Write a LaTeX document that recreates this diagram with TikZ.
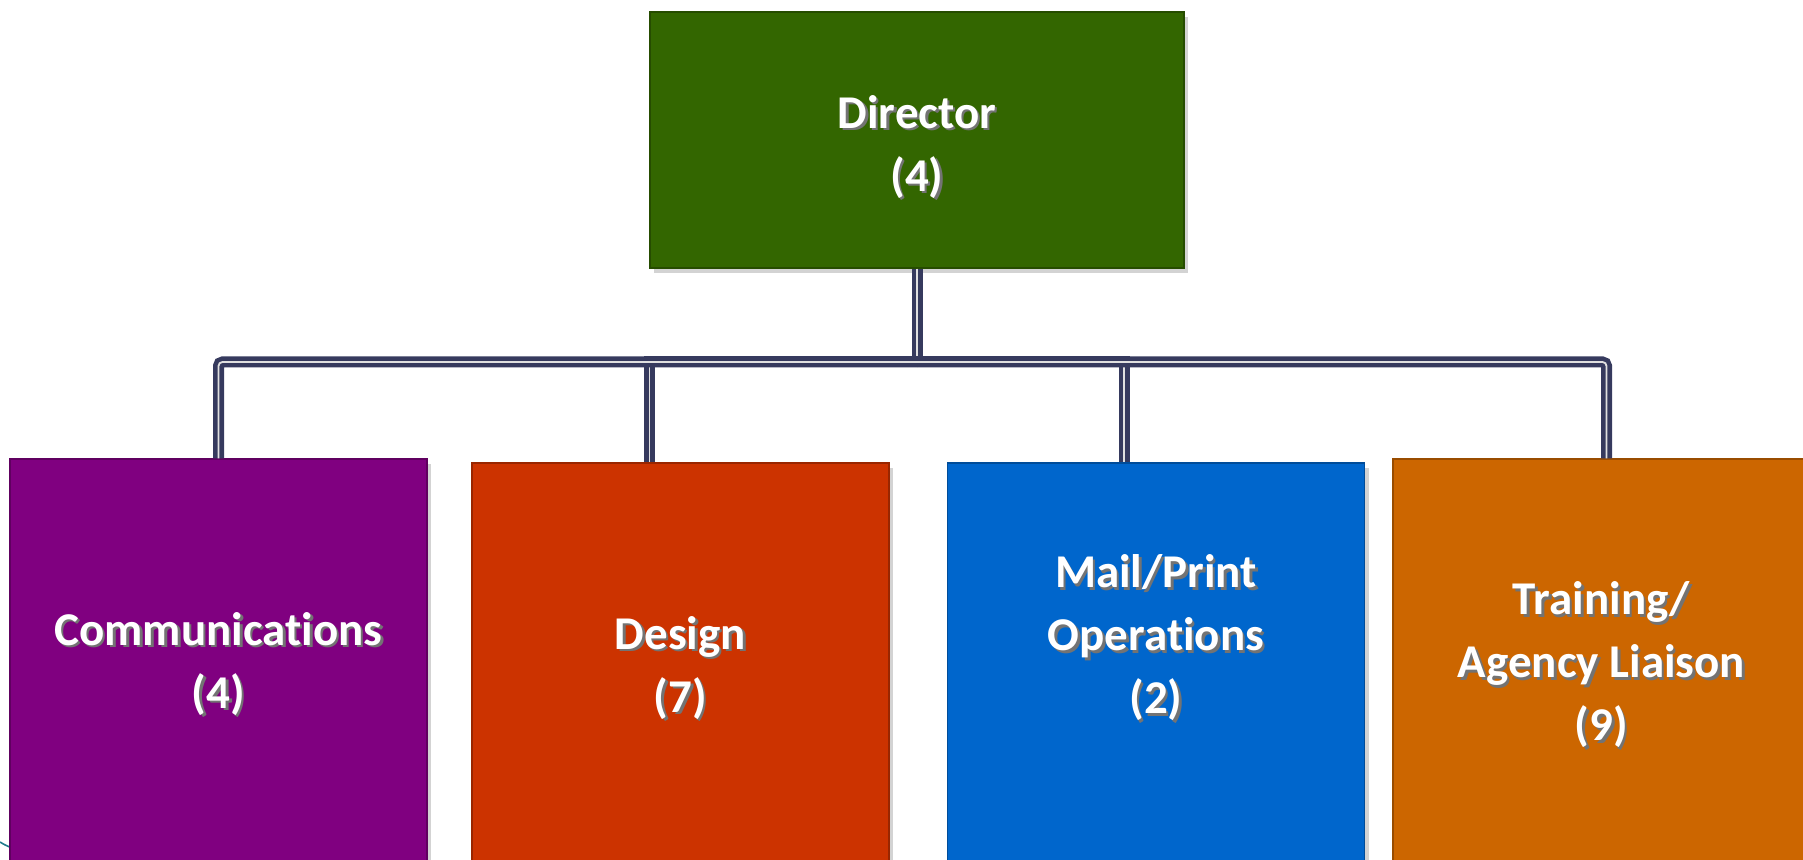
\documentclass[tikz,border=0pt]{standalone}
\usepackage{fontspec}
\setmainfont{Carlito}[Ligatures=NoCommon]
\usetikzlibrary{shadows}
\definecolor{dirgreen}{HTML}{336600}
\definecolor{compurple}{HTML}{800080}
\definecolor{desred}{HTML}{CC3300}
\definecolor{mailblue}{HTML}{0066CC}
\definecolor{trainorange}{HTML}{CC6600}
\definecolor{linknavy}{HTML}{363A5E}
\definecolor{curveteal}{HTML}{1F7A8C}
\newcommand\shd[1]{\rlap{\hspace{1.2pt}\raisebox{-1.4pt}{\color{black!55}#1}}#1}
\begin{document}
\begin{tikzpicture}[x=0.5pt, y=-0.5pt,
	box/.style={rectangle, draw=#1!75!black, fill=#1, line width=0.6pt, drop shadow={shadow xshift=2pt, shadow yshift=-2.5pt, opacity=0.35}},
	txt/.style={text=white, align=center, font=\bfseries\fontsize{23.5}{31.5}\selectfont},
	link/.style={draw=linknavy, line width=2.3pt, double=black!12, double distance=0.9pt}]
		\useasboundingbox (0,0) rectangle (1803,860);
		\clip (0,0) rectangle (1803,860);
		\draw [curveteal, line width=0.8pt] (0,842) .. controls (5,845) .. (12,848);
		\node[box=dirgreen, minimum width=267pt, minimum height=128pt] (dir) at (917,140) {};
		\node[box=compurple, minimum width=208.5pt, minimum height=210.5pt] (comm) at (218.5,669.5) {};
		\node[box=desred, minimum width=208.5pt, minimum height=210.5pt] (des) at (680.5,673.5) {};
		\node[box=mailblue, minimum width=208.5pt, minimum height=210.5pt] (mail) at (1156,673.5) {};
		\node[box=trainorange, minimum width=208.5pt, minimum height=210.5pt] (train) at (1601.5,669.5) {};
		\coordinate (bus) at (917,362);
		\draw [link] (dir.south) -- (bus);
		\draw [link] (bus) -| ([xshift=-15.5pt]des.north);
		\draw [link] (bus) -| ([xshift=-16pt]mail.north);
		\draw [link, rounded corners=2pt] (bus) -| (comm.north);
		\draw [link, rounded corners=2pt] (bus) -| ([xshift=2.5pt]train.north);
		\node[txt] (dirtxt) at (917,148) {\shd{Director}\\\shd{(4)}};
		\node[txt] (commtxt) at (218.5,665) {\shd{Communications}\\\shd{(4)}};
		\node[txt] (destxt) at (680.5,669) {\shd{Design}\\\shd{(7)}};
		\node[txt] (mailtxt) at (1156,639) {\shd{Mail/Print}\\\shd{Operations}\\\shd{(2)}};
		\node[txt] (traintxt) at (1601.5,666) {\shd{Training/}\\\shd{Agency Liaison}\\\shd{(9)}};
	\end{tikzpicture}
\end{document}
